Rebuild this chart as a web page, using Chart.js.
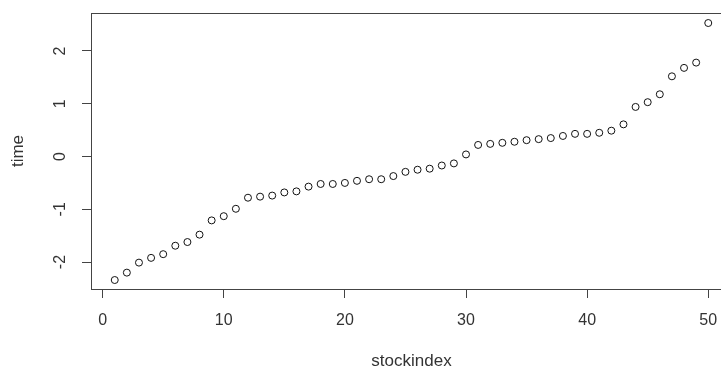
<!DOCTYPE html>
<html>
<head>
<meta charset="utf-8">
<script src="https://cdn.jsdelivr.net/npm/chart.js@4/dist/chart.umd.min.js"></script>
<style>
    html, body { margin: 0; padding: 0; background: #fff; overflow: hidden; }
    #wrap { width: 740px; height: 370px; }
</style>
</head>
<body>
<div id="wrap"><canvas id="plot" width="740" height="370"></canvas></div>
<script>
const stockIndex = [1, 2, 3, 4, 5, 6, 7, 8, 9, 10,
    11, 12, 13, 14, 15, 16, 17, 18, 19, 20,
    21, 22, 23, 24, 25, 26, 27, 28, 29, 30,
    31, 32, 33, 34, 35, 36, 37, 38, 39, 40,
    41, 42, 43, 44, 45, 46, 47, 48, 49, 50];
const timeValues = [-2.34, -2.20, -2.01, -1.92, -1.85, -1.69, -1.62, -1.48, -1.21, -1.13,
    -0.99, -0.78, -0.76, -0.74, -0.68, -0.66, -0.57, -0.52, -0.52, -0.50,
    -0.46, -0.43, -0.43, -0.37, -0.29, -0.25, -0.23, -0.17, -0.13, 0.04,
    0.22, 0.24, 0.26, 0.28, 0.31, 0.33, 0.35, 0.39, 0.43, 0.43,
    0.45, 0.49, 0.61, 0.94, 1.03, 1.18, 1.52, 1.68, 1.78, 2.53];
const xTicks = [0, 10, 20, 30, 40, 50];
const yTicks = [-2, -1, 0, 1, 2];

const points = stockIndex.map((x, i) => ({ x: x, y: timeValues[i] }));
const textColor = '#333';
const boxColor = '#444';

// R style box around the plot region
const boxPlugin = {
    id: 'box',
    afterDraw(chart) {
        const a = chart.chartArea;
        const ctx = chart.ctx;
        ctx.save();
        ctx.strokeStyle = boxColor;
        ctx.lineWidth = 1;
        ctx.strokeRect(Math.round(a.left) + 0.5, Math.round(a.top) + 0.5,
            Math.round(a.right - a.left), Math.round(a.bottom - a.top));
        ctx.restore();
    }
};

new Chart(document.getElementById('plot').getContext('2d'), {
    type: 'scatter',
    data: {
        datasets: [{
            data: points,
            pointStyle: 'circle',
            pointRadius: 3.5,
            pointBorderWidth: 1,
            borderColor: '#111',
            backgroundColor: 'rgba(0,0,0,0)',
            showLine: false
        }]
    },
    options: {
        responsive: false,
        animation: false,
        layout: { padding: { left: 0, top: 13, right: 8, bottom: 0 } },
        plugins: {
            legend: { display: false },
            tooltip: { enabled: false }
        },
        scales: {
            x: {
                type: 'linear',
                min: -0.96,
                max: 51.96,
                afterBuildTicks: (scale) => { scale.ticks = xTicks.map(v => ({ value: v })); },
                afterFit: (scale) => {
                    scale.height = 81;
                    scale.paddingLeft = 0;
                    scale.paddingRight = 0;
                },
                border: { display: false },
                grid: { drawOnChartArea: false, drawTicks: true, tickLength: 9, color: boxColor },
                ticks: {
                    color: textColor,
                    font: { family: 'Liberation Sans', size: 16 },
                    padding: 13,
                    maxRotation: 0
                },
                title: {
                    display: true,
                    text: 'stockindex',
                    color: textColor,
                    font: { family: 'Liberation Sans', size: 17, lineHeight: 1 },
                    padding: 0
                }
            },
            y: {
                type: 'linear',
                min: -2.51,
                max: 2.72,
                afterBuildTicks: (scale) => { scale.ticks = yTicks.map(v => ({ value: v })); },
                afterFit: (scale) => {
                    scale.width = 91;
                    scale.paddingTop = 0;
                    scale.paddingBottom = 0;
                },
                border: { display: false },
                grid: { drawOnChartArea: false, drawTicks: true, tickLength: 9, color: boxColor },
                ticks: {
                    color: textColor,
                    font: { family: 'Liberation Sans', size: 16 },
                    padding: 14,
                    minRotation: 90,
                    maxRotation: 90,
                    crossAlign: 'center'
                },
                title: {
                    display: true,
                    text: 'time',
                    color: textColor,
                    font: { family: 'Liberation Sans', size: 17, lineHeight: 1 },
                    padding: { top: 10, bottom: 0 }
                }
            }
        }
    },
    plugins: [boxPlugin]
});
</script>
</body>
</html>
